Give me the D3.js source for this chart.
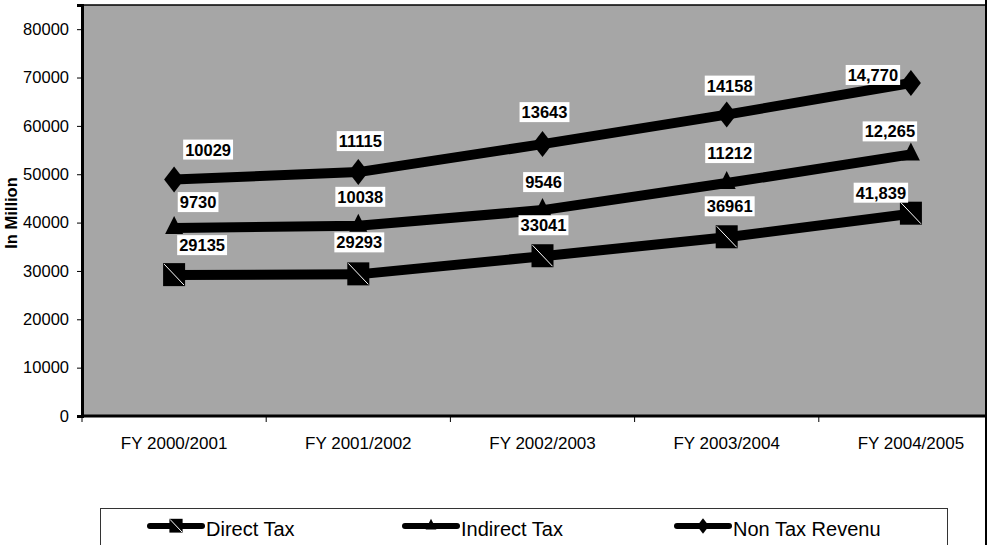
<!DOCTYPE html>
<html>
<head>
<meta charset="utf-8">
<script src="https://cdn.jsdelivr.net/npm/d3@7"></script>
<style>
  html, body { margin: 0; padding: 0; background: #fff; }
  svg { display: block; }
</style>
</head>
<body>
<script>
// ---- data ----
const categories = ["FY 2000/2001", "FY 2001/2002", "FY 2002/2003", "FY 2003/2004", "FY 2004/2005"];
const seriesNames = ["Direct Tax", "Indirect Tax", "Non Tax Revenu"];
const directTax = [29135, 29293, 33041, 36961, 41839];
const indirectTax = [9730, 10038, 9546, 11212, 12265];
const nonTaxRevenue = [10029, 11115, 13643, 14158, 14770];
const yTicks = [0, 10000, 20000, 30000, 40000, 50000, 60000, 70000, 80000];
const yTitle = "In Million";

// ---- layout ----
const W = 990, H = 545;
const plot = { left: 82, right: 1003, top: 5, bottom: 416, clipRight: 986 };

const svg = d3.select("body").append("svg").attr("width", W).attr("height", H);

const table = categories.map((c, i) => ({
  cat: c,
  "Direct Tax": directTax[i],
  "Indirect Tax": indirectTax[i],
  "Non Tax Revenu": nonTaxRevenue[i]
}));
const stacked = d3.stack().keys(seriesNames)(table);

const x = d3.scaleBand().domain(categories).range([plot.left, plot.right]).padding(0);
const y = d3.scaleLinear().domain([0, 85000]).range([plot.bottom, plot.top]);
const cx = c => x(c) + x.bandwidth() / 2;

// plot background
svg.append("rect")
  .attr("x", plot.left).attr("y", plot.top)
  .attr("width", plot.clipRight - plot.left).attr("height", plot.bottom - plot.top)
  .attr("fill", "#a6a6a6").attr("stroke", "#000").attr("stroke-width", 1.5);

// y axis
const yAxis = d3.axisLeft(y).tickValues(yTicks).tickSize(5).tickPadding(8).tickFormat(d3.format("d"));
const gy = svg.append("g").attr("transform", `translate(${plot.left},0)`).call(yAxis);
gy.select(".domain").attr("stroke", "#000").attr("stroke-width", 3);
gy.selectAll(".tick line").attr("stroke", "#000");
gy.selectAll(".tick text").attr("font-family", "Liberation Sans, Arial, sans-serif")
  .attr("font-size", 16.5).attr("fill", "#000");

// x axis (ticks at category boundaries)
const gx = svg.append("g").attr("transform", `translate(0,${plot.bottom})`);
gx.append("line").attr("x1", plot.left).attr("x2", plot.clipRight)
  .attr("y1", 0).attr("y2", 0).attr("stroke", "#000").attr("stroke-width", 3);
gx.selectAll("line.tk").data(categories).enter().append("line").attr("class", "tk")
  .attr("x1", d => x(d)).attr("x2", d => x(d)).attr("y1", 0).attr("y2", 6)
  .attr("stroke", "#000").attr("stroke-width", 1);
gx.selectAll("text").data(categories).enter().append("text")
  .attr("x", d => cx(d)).attr("y", 33).attr("text-anchor", "middle")
  .attr("font-family", "Liberation Sans, Arial, sans-serif").attr("font-size", 17)
  .attr("fill", "#000").text(d => d);

// y title
svg.append("text")
  .attr("transform", "translate(17,213) rotate(-90)")
  .attr("text-anchor", "middle")
  .attr("font-family", "Liberation Sans, Arial, sans-serif").attr("font-weight", "bold")
  .attr("font-size", 16.5).attr("fill", "#000").text(yTitle);

// markers
function drawMarker(g, key, px, py, s) {
  if (key === "Direct Tax") {
    g.append("rect").attr("x", px - 11 * s).attr("y", py - 12 * s)
      .attr("width", 22 * s).attr("height", 23 * s).attr("fill", "#000");
    g.append("line").attr("x1", px - 10 * s).attr("y1", py - 11 * s)
      .attr("x2", px + 10 * s).attr("y2", py + 10 * s)
      .attr("stroke", "#fff").attr("stroke-width", 1);
  } else if (key === "Indirect Tax") {
    g.append("path").attr("d",
      `M${px},${py - 12 * s} L${px + 9 * s},${py + 6 * s} L${px - 9 * s},${py + 6 * s} Z`)
      .attr("fill", "#000");
  } else {
    g.append("path").attr("d",
      `M${px},${py - 13 * s} L${px + 10 * s},${py} L${px},${py + 13 * s} L${px - 10 * s},${py} Z`)
      .attr("fill", "#000");
  }
}

const line = d3.line().x(d => cx(d.data.cat)).y(d => y(d[1]));
const gLines = svg.append("g");
stacked.forEach(s => {
  gLines.append("path").datum(s).attr("d", line)
    .attr("fill", "none").attr("stroke", "#000").attr("stroke-width", 10)
    .attr("stroke-linejoin", "round");
});
stacked.forEach(s => {
  s.forEach(d => drawMarker(gLines, s.key, cx(d.data.cat), y(d[1]), 1));
});

// data labels
const labelOffsets = {
  "Non Tax Revenu": [[34, -30], [2, -31], [2, -32], [3, -29], [-38, -8]],
  "Indirect Tax": [[24, -26], [2, -29], [1, -28], [3, -30], [-21, -23]],
  "Direct Tax": [[28, -30], [1, -32], [1, -31], [3, -31], [-30, -21]]
};
const gLab = svg.append("g");
stacked.forEach(s => {
  s.forEach((d, i) => {
    const v = d[1] - d[0];
    const txt = i === s.length - 1 ? d3.format(",")(v) : d3.format("d")(v);
    const off = labelOffsets[s.key][i];
    const lx = cx(d.data.cat) + off[0], ly = y(d[1]) + off[1];
    const t = gLab.append("text").attr("x", lx).attr("y", ly + 6)
      .attr("text-anchor", "middle")
      .attr("font-family", "Liberation Sans, Arial, sans-serif").attr("font-weight", "bold")
      .attr("font-size", 16.5).attr("fill", "#000").text(txt);
    const bb = t.node().getBBox();
    gLab.insert("rect", () => t.node())
      .attr("x", bb.x - 2).attr("y", ly - 10).attr("width", bb.width + 4).attr("height", 20)
      .attr("fill", "#fff");
  });
});

// right frame line
svg.append("line").attr("x1", plot.clipRight).attr("x2", plot.clipRight)
  .attr("y1", 0).attr("y2", H).attr("stroke", "#000").attr("stroke-width", 2);

// legend
const gLeg = svg.append("g");
gLeg.append("rect").attr("x", 100.5).attr("y", 508.5).attr("width", 847).attr("height", 60)
  .attr("fill", "#fff").attr("stroke", "#333").attr("stroke-width", 1);
const legX = [150, 405, 677];
seriesNames.forEach((k, i) => {
  const x0 = legX[i], ly = 526;
  gLeg.append("line").attr("x1", x0).attr("x2", x0 + 52).attr("y1", ly).attr("y2", ly)
    .attr("stroke", "#000").attr("stroke-width", 6).attr("stroke-linecap", "round");
  drawMarker(gLeg, k, x0 + 26, ly, 0.6);
  gLeg.append("text").attr("x", x0 + 56).attr("y", ly + 10)
    .attr("font-family", "Liberation Sans, Arial, sans-serif").attr("font-size", 20)
    .attr("fill", "#000").text(k);
});
</script>
</body>
</html>
